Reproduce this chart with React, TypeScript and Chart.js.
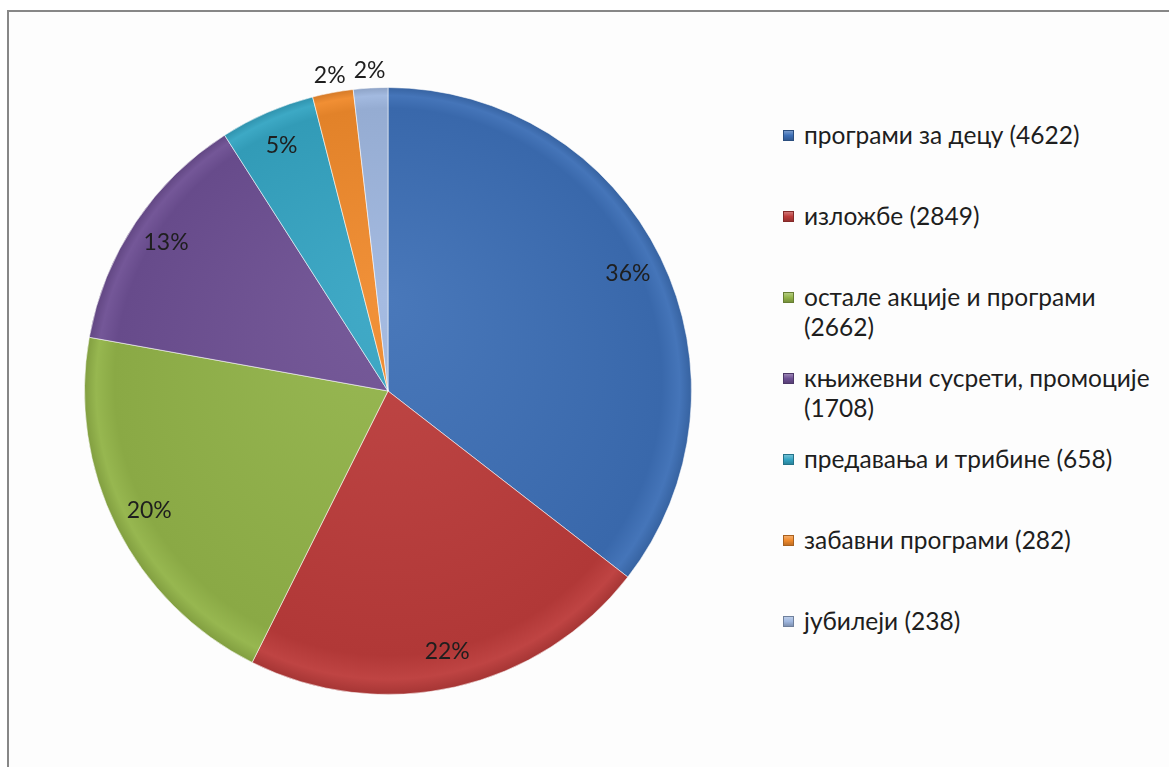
import React, { useEffect, useRef } from "react";
import { Chart, registerables } from "chart.js";

Chart.register(...registerables);

const categories = [
  "програми за децу",
  "изложбе",
  "остале акције и програми",
  "књижевни сусрети, промоције",
  "предавања и трибине",
  "забавни програми",
  "јубилеји",
];
const values = [4622, 2849, 2662, 1708, 658, 282, 238];
const colors = ["#3D6FB6", "#BC3C3B", "#93B449", "#6E5094", "#35A5C3", "#F08A2C", "#9FB7DF"];

const FONT = "Lato, 'Open Sans', sans-serif";

function shade(hex: string, f: number) {
  const n = parseInt(hex.slice(1), 16);
  let r = (n >> 16) & 255, g = (n >> 8) & 255, b = n & 255;
  const adj = (c: number) => (f >= 0 ? Math.round(c + (255 - c) * f) : Math.round(c * (1 + f)));
  return `rgb(${adj(r)},${adj(g)},${adj(b)})`;
}

const pctLabels = {
  id: "pctLabels",
  afterDatasetsDraw(chart: any) {
    const ctx = chart.ctx;
    const meta = chart.getDatasetMeta(0);
    const data = chart.data.datasets[0].data as number[];
    const total = data.reduce((a, b) => a + b, 0);
    ctx.save();
    ctx.font = `23px ${FONT}`;
    ctx.fillStyle = "#1e1e1e";
    ctx.textAlign = "center";
    ctx.textBaseline = "middle";
    meta.data.forEach((arc: any, i: number) => {
      const { x, y, startAngle, endAngle, outerRadius } = arc.getProps(
        ["x", "y", "startAngle", "endAngle", "outerRadius"],
        true
      );
      const pct = (data[i] / total) * 100;
      const mid = (startAngle + endAngle) / 2;
      const r = pct < 3 ? outerRadius + 17 : outerRadius * 0.88;
      ctx.fillText(Math.round(pct) + "%", x + Math.cos(mid) * r, y + Math.sin(mid) * r);
    });
    ctx.restore();
  },
};

export default function App() {
  const ref = useRef<HTMLCanvasElement>(null);
  useEffect(() => {
    if (!ref.current) return;
    const chart = new Chart(ref.current, {
      type: "pie",
      data: {
        labels: categories,
        datasets: [
          {
            data: values,
            backgroundColor: (c: any) => {
              const base = colors[c.dataIndex % colors.length];
              const area = c.chart.chartArea;
              if (!area) return base;
              const cx = (area.left + area.right) / 2;
              const cy = (area.top + area.bottom) / 2;
              const R = Math.min(area.right - area.left, area.bottom - area.top) / 2;
              const g = c.chart.ctx.createRadialGradient(cx, cy - R * 0.3, 0, cx, cy, R);
              g.addColorStop(0, shade(base, 0.06));
              g.addColorStop(0.9, shade(base, -0.06));
              g.addColorStop(0.96, shade(base, 0.04));
              g.addColorStop(1, shade(base, -0.12));
              return g;
            },
            borderColor: "rgba(255,255,255,0.55)",
            borderWidth: 1,
          },
        ],
      },
      options: {
        responsive: false,
        animation: false,
        layout: { padding: 46 },
        plugins: { legend: { display: false }, tooltip: { enabled: false } },
      },
      plugins: [pctLabels],
    });
    return () => chart.destroy();
  }, []);

  return (
    <div
      style={{
        position: "fixed",
        left: 0,
        top: 0,
        width: 1169,
        height: 767,
        overflow: "hidden",
        background: "#fff",
      }}
    >
      <div
        style={{
          position: "absolute",
          left: 7,
          top: 10,
          width: 1300,
          height: 900,
          border: "2px solid #878787",
          boxSizing: "border-box",
          background: "#fdfdfd",
        }}
      />
      <canvas
        ref={ref}
        width={700}
        height={700}
        style={{ position: "absolute", left: 38, top: 41, width: 700, height: 700 }}
      />
      <div style={{ position: "absolute", left: 783, top: 120, width: 380, fontFamily: FONT }}>
        {categories.map((cat, i) => (
          <div
            key={cat}
            style={{
              position: "absolute",
              top: i * 81,
              left: 0,
              display: "flex",
              alignItems: "flex-start",
            }}
          >
            <span
              style={{
                display: "inline-block",
                width: 11,
                height: 11,
                marginTop: 10,
                marginRight: 10,
                boxSizing: "border-box",
                border: `1px solid ${shade(colors[i], -0.3)}`,
                background: `linear-gradient(180deg, ${shade(colors[i], 0.3)} 0%, ${colors[i]} 50%, ${shade(
                  colors[i],
                  -0.2
                )} 100%)`,
                flex: "0 0 auto",
              }}
            />
            <span
              style={{
                fontSize: 24.5,
                lineHeight: "30px",
                color: "#1e1e1e",
                width: 355,
              }}
            >
              {cat} ({values[i]})
            </span>
          </div>
        ))}
      </div>
    </div>
  );
}
